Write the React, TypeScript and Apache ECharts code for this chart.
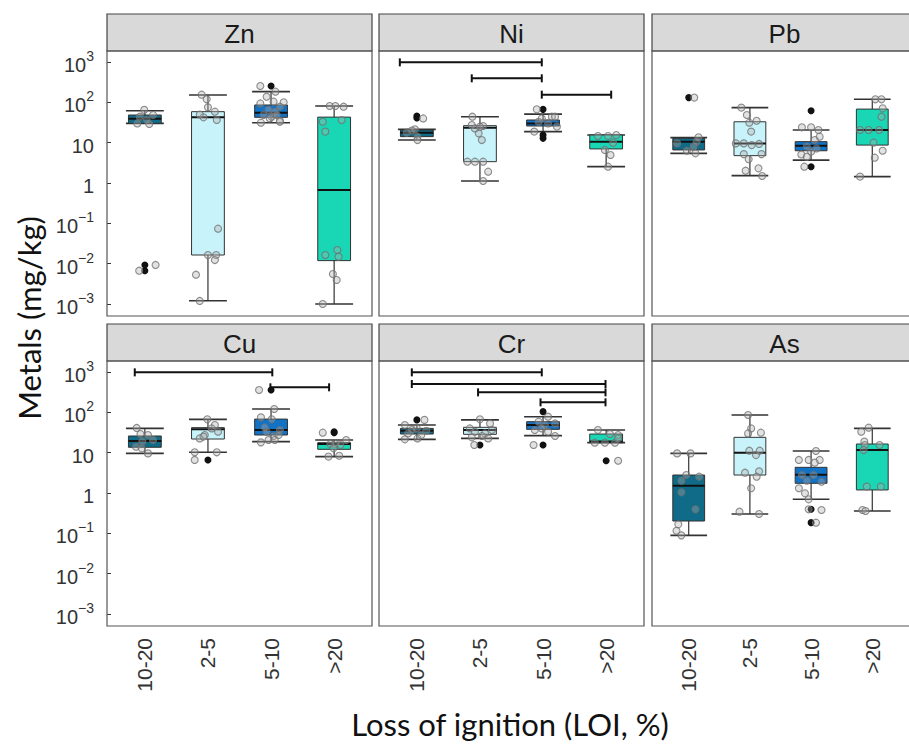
import React, { useEffect, useRef } from "react";
import * as echarts from "echarts";

const categories = ["10-20", "2-5", "5-10", ">20"];
const metals = ["Zn", "Ni", "Pb", "Cu", "Cr", "As"];
const boxColors = ["#0f6b87", "#c9f3fa", "#1273c6", "#19d6b5"];

// box stats per category: [lower whisker, Q1, median, Q3, upper whisker]
const statsZn = [[30, 30, 39, 48.5, 62], [0.0012, 0.0164, 42.5, 58.7, 152], [31.3, 42.5, 55.5, 86, 184], [0.001, 0.0119, 0.67, 43, 81]];
const statsNi = [[11.6, 14.1, 17.7, 20.6, 21.4], [1.12, 3.38, 23.5, 26.4, 44], [18.8, 25.9, 30, 36.5, 51], [2.54, 7, 10.6, 15.5, 15.5]];
const statsPb = [[5.44, 6.6, 10.6, 12.8, 13.3], [1.52, 4.77, 9.6, 33, 74], [3.7, 6.3, 8.4, 10.6, 20.6], [1.44, 8.7, 20.6, 68, 119]];
const statsCu = [[9.6, 13.6, 19.5, 25.9, 40], [10.2, 21.8, 37.9, 41.7, 67], [18.8, 27.4, 36.5, 68, 121], [8, 12.1, 16.4, 17.7, 20.6]];
const statsCr = [[21.4, 29, 35, 40, 48.5], [22.6, 28.5, 36.5, 42.5, 65], [26.4, 37.9, 48.5, 58.7, 78], [17.7, 17.7, 18.8, 29, 36.5]];
const statsAs = [[0.089, 0.202, 1.52, 2.79, 9.6], [0.301, 2.79, 10, 24, 86], [0.697, 1.74, 2.85, 4.33, 11], [0.358, 1.19, 11.6, 16.4, 40]];

// outliers: [category index, value]
const outZn = [[0, 0.0093], [0, 0.0067], [2, 254]];
const outNi = [[0, 45.8], [0, 41], [2, 67], [2, 15.5], [2, 12.8]];
const outPb = [[0, 131], [2, 62], [2, 2.54]];
const outCu = [[1, 6.6], [2, 358], [3, 31.3], [3, 33]];
const outCr = [[0, 65], [1, 15.5], [2, 104], [2, 15.5], [3, 6.3]];
const outAs = [[2, 0.394], [2, 0.184]];

// jittered observations: [category index, horizontal jitter, value]
const ptsZn = [
  [0, -0.01, 65], [0, -0.08, 44], [0, 0.13, 48.5], [0, 0.07, 29], [0, -0.12, 30], [0, 0.03, 36.5], [0, -0.09, 0.0067], [0, 0.17, 0.0093],
  [1, -0.1, 155], [1, -0.02, 119], [1, 0, 75], [1, 0.11, 58.7], [1, -0.07, 42.5], [1, 0.14, 36.5], [1, -0.13, 50], [1, 0.16, 0.0738], [1, 0, 0.0164], [1, 0.13, 0.0164], [1, 0.11, 0.0123], [1, -0.19, 0.00533], [1, -0.13, 0.00119],
  [2, -0.17, 254], [2, 0.07, 184], [2, -0.07, 138], [2, -0.17, 94], [2, 0.04, 104], [2, 0.2, 100], [2, 0.14, 78], [2, -0.04, 65], [2, 0.06, 58.7], [2, -0.12, 48.5], [2, 0.01, 44], [2, 0.14, 35], [2, -0.16, 31.3], [2, 0.14, 33], [2, -0.02, 40], [2, 0.09, 48.5],
  [3, -0.07, 81], [3, 0.02, 81], [3, 0.15, 78], [3, -0.18, 33], [3, 0.12, 36.5], [3, -0.14, 18.8], [3, -0.14, 0.0164], [3, 0.05, 0.0218], [3, 0.07, 0.0149], [3, -0.02, 0.00555], [3, 0.04, 0.00394], [3, -0.18, 0.001],
];
const ptsNi = [
  [0, 0.1, 40], [0, -0.16, 17.7], [0, -0.03, 21.4], [0, 0.01, 14.1], [0, 0.01, 11.6], [0, -0.08, 20],
  [1, -0.12, 44], [1, -0.13, 27.4], [1, 0.05, 25.9], [1, -0.02, 17], [1, 0.03, 11.6], [1, -0.2, 3.38], [1, -0.08, 3.38], [1, 0.05, 3.38], [1, 0.13, 1.91], [1, 0.05, 1.12], [1, -0.08, 22.6], [1, 0, 24.9],
  [2, -0.1, 67], [2, 0.14, 44], [2, 0.19, 44], [2, -0.14, 18.8], [2, 0.22, 25], [2, 0.08, 30], [2, -0.07, 33], [2, -0.02, 40],
  [3, -0.13, 14.6], [3, 0.03, 14.6], [3, 0.16, 15.5], [3, 0.11, 10], [3, -0.02, 6.6], [3, 0.07, 4.94], [3, 0.03, 2.54],
];
const ptsPb = [
  [0, -0.19, 9.6], [0, 0.08, 8], [0, 0.16, 13.6], [0, 0.13, 10.6], [0, -0.03, 6.3], [0, 0.11, 5.44], [0, 0.09, 131],
  [1, -0.14, 74], [1, -0.05, 48.5], [1, 0.11, 35], [1, -0.01, 31.3], [1, 0.02, 18.8], [1, -0.23, 9.6], [1, -0.1, 9.6], [1, 0.03, 8.7], [1, 0.15, 9.3], [1, 0.19, 5.2], [1, -0.1, 5.2], [1, -0.02, 3.9], [1, -0.07, 2.02], [1, 0.14, 2.31], [1, 0.2, 1.49],
  [2, -0.15, 24], [2, 0, 24], [2, 0.12, 20.6], [2, 0.14, 14.1], [2, 0.06, 11.6], [2, -0.07, 8], [2, -0.16, 5.1], [2, -0.07, 4.5], [2, -0.11, 2.54], [2, 0, 6], [2, 0.09, 7.2],
  [3, 0.05, 119], [3, 0.15, 119], [3, 0.17, 71], [3, 0.15, 44], [3, -0.2, 20.6], [3, -0.06, 20.6], [3, 0.11, 20.6], [3, 0.02, 10], [3, 0.17, 6.3], [3, 0.04, 4.25], [3, -0.2, 1.44],
];
const ptsCu = [
  [0, -0.13, 41], [0, -0.07, 29], [0, 0.05, 27.4], [0, -0.04, 18.8], [0, 0.13, 20.6], [0, -0.14, 14.1], [0, -0.05, 12.8], [0, 0.05, 9.6],
  [1, -0.01, 67], [1, 0.11, 48.5], [1, 0.06, 40], [1, -0.13, 22.6], [1, -0.05, 27.4], [1, -0.21, 10.2], [1, 0.14, 10.2], [1, 0.16, 33], [1, -0.07, 25], [1, -0.21, 6.6],
  [2, 0.05, 121], [2, -0.16, 75], [2, 0.01, 67], [2, -0.1, 42.5], [2, 0.14, 36.5], [2, 0.04, 25.9], [2, -0.16, 18], [2, -0.04, 20.6], [2, 0.06, 20.6], [2, 0.12, 27.4], [2, -0.07, 33], [2, -0.19, 358],
  [3, -0.06, 16.4], [3, 0.02, 16.4], [3, 0.19, 20.6], [3, 0.1, 15.5], [3, -0.09, 8], [3, 0.08, 8.4], [3, -0.01, 12.8], [3, -0.18, 31.3],
];
const ptsCr = [
  [0, -0.19, 48.5], [0, 0, 40], [0, 0.15, 35], [0, -0.14, 30], [0, -0.19, 21.4], [0, 0.01, 22.6], [0, 0.07, 27.4], [0, -0.08, 36.5], [0, 0.12, 65],
  [1, 0, 67], [1, 0.16, 53], [1, -0.16, 40], [1, -0.08, 33], [1, 0.08, 30], [1, 0.19, 36.5], [1, -0.13, 24], [1, 0.03, 25.9], [1, 0.13, 22.6], [1, -0.09, 15.5],
  [2, 0.08, 78], [2, -0.07, 58.7], [2, 0.19, 53], [2, 0.03, 48.5], [2, -0.13, 36.5], [2, 0.08, 33], [2, 0.19, 25.9], [2, -0.02, 40], [2, -0.15, 15.5],
  [3, -0.13, 36.5], [3, 0.06, 29], [3, 0.19, 27.4], [3, -0.18, 17.7], [3, -0.02, 17.7], [3, 0.14, 17.7], [3, 0.19, 22.6], [3, 0.19, 6.3],
];
const ptsAs = [
  [0, -0.19, 9.6], [0, 0.03, 9.6], [0, -0.04, 2.79], [0, 0.17, 2.54], [0, -0.12, 2.02], [0, -0.12, 1.04], [0, 0.11, 0.394], [0, -0.17, 0.167], [0, -0.2, 0.116], [0, -0.12, 0.089],
  [1, -0.03, 86], [1, 0.02, 40], [1, -0.03, 30], [1, 0.18, 31.3], [1, -0.01, 11.2], [1, 0.1, 8.7], [1, 0.16, 11.2], [1, -0.08, 3.19], [1, 0.15, 3.44], [1, 0.11, 2.54], [1, 0.02, 1.31], [1, -0.17, 0.344], [1, 0.15, 0.301],
  [2, 0.08, 11], [2, -0.2, 6.6], [2, -0.04, 6.6], [2, 0.14, 6.6], [2, 0.06, 5.65], [2, -0.15, 2.79], [2, 0.04, 2.79], [2, 0.17, 1.91], [2, -0.07, 2.02], [2, -0.2, 1.31], [2, -0.1, 0.98], [2, -0.04, 0.697], [2, 0.17, 0.379], [2, 0.08, 0.184], [2, -0.04, 0.394],
  [3, -0.06, 41.7], [3, -0.18, 33], [3, -0.13, 18.8], [3, -0.12, 15.5], [3, 0.12, 15.5], [3, -0.14, 11.6], [3, -0.09, 1.44], [3, 0.14, 1.44], [3, -0.16, 0.379], [3, -0.11, 0.358],
];

// significance brackets: [x start, x end, height]
const brZn: number[][] = [];
const brNi = [[0.73, 2.98, 980], [1.87, 2.98, 394], [2.98, 4.08, 155]];
const brPb: number[][] = [];
const brCu = [[0.84, 3.02, 980], [2.99, 3.92, 417]];
const brCr = [[0.92, 2.98, 980], [0.92, 3.99, 504], [1.97, 3.99, 313], [2.96, 3.99, 177]];
const brAs: number[][] = [];

const statsAll = [statsZn, statsNi, statsPb, statsCu, statsCr, statsAs];
const outAll = [outZn, outNi, outPb, outCu, outCr, outAs];
const ptsAll = [ptsZn, ptsNi, ptsPb, ptsCu, ptsCr, ptsAs];
const brAll = [brZn, brNi, brPb, brCu, brCr, brAs];

const FONT = "Liberation Sans, Arial, sans-serif";
const TITLE_FONT = "Lato, Open Sans, sans-serif";
const colLeft = [107, 379, 652];
const panelW = 265;
const frameTop = [51, 361];
const frameH = 265;
const stripH = 37;

const fmtY = (v: number) => {
  const e = Math.round(Math.log10(v));
  if (e === 0) return "{n|1}";
  if (e === 1) return "{n|10}";
  return "{n|10}{s|" + (e < 0 ? "\u2212" + -e : String(e)) + "}";
};

const renderBox = (params: any, api: any) => {
  const x = api.value(0);
  const lo = api.value(1), q1 = api.value(2), med = api.value(3), q3 = api.value(4), hi = api.value(5);
  const ci = api.value(6);
  const pLo = api.coord([x, lo]);
  const pHi = api.coord([x, hi]);
  const pQ1 = api.coord([x, q1]);
  const pQ3 = api.coord([x, q3]);
  const pMed = api.coord([x, med]);
  const capL = api.coord([x - 0.3, lo])[0];
  const capR = api.coord([x + 0.3, lo])[0];
  const bL = api.coord([x - 0.26, q1])[0];
  const bR = api.coord([x + 0.26, q1])[0];
  const stroke = "#333";
  return {
    type: "group",
    children: [
      { type: "line", shape: { x1: pLo[0], y1: pLo[1], x2: pHi[0], y2: pHi[1] }, style: { stroke, lineWidth: 1.2 } },
      { type: "line", shape: { x1: capL, y1: pLo[1], x2: capR, y2: pLo[1] }, style: { stroke, lineWidth: 1.6 } },
      { type: "line", shape: { x1: capL, y1: pHi[1], x2: capR, y2: pHi[1] }, style: { stroke, lineWidth: 1.6 } },
      { type: "rect", shape: { x: bL, y: pQ3[1], width: bR - bL, height: Math.max(pQ1[1] - pQ3[1], 1) }, style: { fill: boxColors[ci], stroke, lineWidth: 1 } },
      { type: "line", shape: { x1: bL, y1: pMed[1], x2: bR, y2: pMed[1] }, style: { stroke: "#111", lineWidth: 2 } },
    ],
  };
};

const renderBracket = (params: any, api: any) => {
  const p1 = api.coord([api.value(0), api.value(2)]);
  const p2 = api.coord([api.value(1), api.value(2)]);
  const st = { stroke: "#111", lineWidth: 2 };
  return {
    type: "group",
    children: [
      { type: "line", shape: { x1: p1[0], y1: p1[1], x2: p2[0], y2: p2[1] }, style: st },
      { type: "line", shape: { x1: p1[0], y1: p1[1] - 4, x2: p1[0], y2: p1[1] + 4 }, style: st },
      { type: "line", shape: { x1: p2[0], y1: p2[1] - 4, x2: p2[0], y2: p2[1] + 4 }, style: st },
    ],
  };
};

export default function App() {
  const ref = useRef<HTMLDivElement>(null);
  useEffect(() => {
    document.body.style.margin = "0";
    const chart = echarts.init(ref.current!, null, { renderer: "svg" });
    const grids: any[] = [];
    const xAxes: any[] = [];
    const yAxes: any[] = [];
    const series: any[] = [];
    const graphics: any[] = [];
    metals.forEach((m, i) => {
      const row = Math.floor(i / 3);
      const col = i % 3;
      grids.push({ left: colLeft[col], top: frameTop[row] + 11, width: panelW, height: 242, show: false });
      xAxes.push({
        type: "value",
        gridIndex: i,
        min: 0.4,
        max: 4.6,
        axisLine: { show: false },
        axisTick: { show: false },
        splitLine: { show: false },
        axisLabel:
          row === 1
            ? {
                show: true,
                customValues: [1, 2, 3, 4],
                formatter: (v: number) => categories[Math.round(v) - 1] ?? "",
                rotate: 90,
                margin: 24,
                fontSize: 21,
                color: "#333",
                fontFamily: FONT,
              }
            : { show: false },
      });
      yAxes.push({
        type: "log",
        logBase: 10,
        gridIndex: i,
        min: 0.001,
        max: 1000,
        splitNumber: 6,
        axisLine: { show: false },
        splitLine: { show: false },
        axisTick: { show: col === 0, inside: true, length: 4, lineStyle: { color: "#333", width: 1 } },
        axisLabel: {
          show: col === 0,
          formatter: fmtY,
          margin: 13,
          rich: {
            n: { fontSize: 20, fontFamily: FONT, color: "#333", lineHeight: 26, verticalAlign: "bottom" },
            s: { fontSize: 14, fontFamily: FONT, color: "#333", verticalAlign: "top", lineHeight: 14 },
          },
        },
      });
      series.push({
        type: "custom",
        xAxisIndex: i,
        yAxisIndex: i,
        renderItem: renderBox,
        encode: { x: 0, y: [1, 2, 3, 4, 5] },
        data: statsAll[i].map((s, c) => [c + 1, ...s, c]),
        silent: true,
      });
      series.push({
        type: "scatter",
        xAxisIndex: i,
        yAxisIndex: i,
        clip: false,
        symbol: "circle",
        symbolSize: 7,
        itemStyle: { color: "#111", opacity: 1 },
        data: outAll[i].map(([c, v]) => [c + 1, v]),
        silent: true,
      });
      series.push({
        type: "scatter",
        xAxisIndex: i,
        yAxisIndex: i,
        clip: false,
        symbol: "circle",
        symbolSize: 7,
        itemStyle: { color: "rgba(175,175,175,0.45)", borderColor: "#707070", borderWidth: 1.1 },
        data: ptsAll[i].map(([c, dx, v]) => [c + 1 + dx, v]),
        silent: true,
      });
      series.push({
        type: "custom",
        xAxisIndex: i,
        yAxisIndex: i,
        renderItem: renderBracket,
        encode: { x: [0, 1], y: 2 },
        data: brAll[i],
        silent: true,
      });
      const sTop = frameTop[row] - stripH;
      graphics.push({
        type: "rect",
        shape: { x: colLeft[col], y: sTop, width: panelW, height: stripH },
        style: { fill: "#d9d9d9", stroke: "#444", lineWidth: 1.2 },
      });
      graphics.push({
        type: "text",
        x: colLeft[col] + panelW / 2,
        y: sTop + stripH / 2 + 1,
        style: { text: m, fontSize: 26, fontFamily: FONT, fill: "#1a1a1a", align: "center", verticalAlign: "middle" },
      });
      graphics.push({
        type: "rect",
        shape: { x: colLeft[col], y: frameTop[row], width: panelW, height: frameH },
        style: { fill: "none", stroke: "#555", lineWidth: 1.2 },
        z: 10,
      });
    });
    graphics.push({
      type: "text",
      x: 29,
      y: 318,
      rotation: Math.PI / 2,
      style: { text: "Metals (mg/kg)", fontSize: 31, fontFamily: TITLE_FONT, fill: "#111", align: "center", verticalAlign: "middle" },
    });
    graphics.push({
      type: "text",
      x: 510,
      y: 724,
      style: { text: "Loss of ignition (LOI, %)", fontSize: 31, fontFamily: TITLE_FONT, fill: "#111", align: "center", verticalAlign: "middle" },
    });
    chart.setOption({
      animation: false,
      backgroundColor: "#fff",
      grid: grids,
      xAxis: xAxes,
      yAxis: yAxes,
      series,
      graphic: graphics,
    });
    return () => chart.dispose();
  }, []);
  return <div ref={ref} style={{ width: 909, height: 744 }} />;
}
